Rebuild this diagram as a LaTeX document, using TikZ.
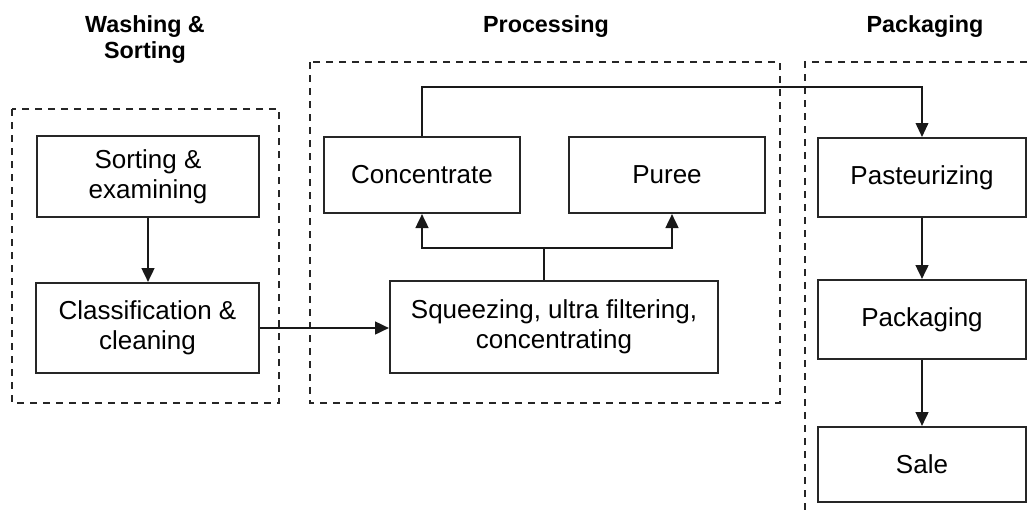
\documentclass[tikz,border=0pt]{standalone}
\usepackage{fontspec}
\setmainfont{Liberation Sans}
\usetikzlibrary{arrows.meta,calc}
\begin{document}
\begin{tikzpicture}[x=0.75pt,y=-0.75pt,
  box/.style={draw=black!85,line width=1.5pt,align=center,inner sep=0pt,
    font=\fontsize{19.5pt}{22.5pt}\selectfont},
  title/.style={align=center,font=\bfseries\fontsize{17.5pt}{19.5pt}\selectfont},
  group/.style={draw=black!85,line width=1.1pt,dash pattern=on 5.25pt off 4.5pt},
  arr/.style={draw=black!90,line width=1.9pt,-{Triangle[length=10.5pt,width=9.5pt]}},
  arrT/.style={draw=black!90,line width=1.3pt,-{Triangle[length=10.5pt,width=9.5pt]}},
  thinline/.style={draw=black!90,line width=1.3pt}]
\clip (0,0) rectangle (1030,514);
% group frames
\draw[group] (12,109) rectangle (279,403);
\draw[group] (310,62) rectangle (780,403);
\draw[group] (1040,62) -- (805,62) -- (805,520);
% titles
\node[title] (t1) at (145,40) {Washing \&\\Sorting};
\node[title] (t2) at (546,27) {Processing};
\node[title] (t3) at (925,27) {Packaging};
% boxes
\node[box,minimum width=166.5pt,minimum height=60.75pt] (sort) at (148,176.5) {Sorting \&\\examining};
\node[box,minimum width=167.25pt,minimum height=67.5pt] (class) at (147.5,328) {Classification \&\\cleaning};
\node[box,minimum width=246pt,minimum height=69pt] (squeeze) at (554,327) {Squeezing, ultra filtering,\\concentrating};
\node[box,minimum width=147pt,minimum height=57pt] (conc) at (422,175) {Concentrate};
\node[box,minimum width=147pt,minimum height=57pt] (puree) at (667,175) {Puree};
\node[box,minimum width=156pt,minimum height=59.25pt] (past) at (922,177.5) {Pasteurizing};
\node[box,minimum width=156pt,minimum height=59.25pt] (pack) at (922,319.5) {Packaging};
\node[box,minimum width=156pt,minimum height=56.25pt] (sale) at (922,464.5) {Sale};
% connectors
\coordinate (br) at (544,248);
\coordinate (top) at (0,87);
\draw[arr] (sort.south) -- (sort.south |- class.north);
\draw[arr] (class.east) -- (class.east -| squeeze.west);
\draw[thinline] (squeeze.north -| br) -- (br);
\draw[arr] (br) -| (conc.south);
\draw[arr] (br) -| ($(puree.south)+(5,0)$);
\draw[arrT] (conc.north) -- (conc.north |- top) -| (past.north);
\draw[thinline] ($(puree.north)+(4,0)$) -- ($(puree.north)+(4,0)$ |- top);
\draw[arr] (past.south) -- (pack.north);
\draw[arr] (pack.south) -- (sale.north);
\end{tikzpicture}
\end{document}
